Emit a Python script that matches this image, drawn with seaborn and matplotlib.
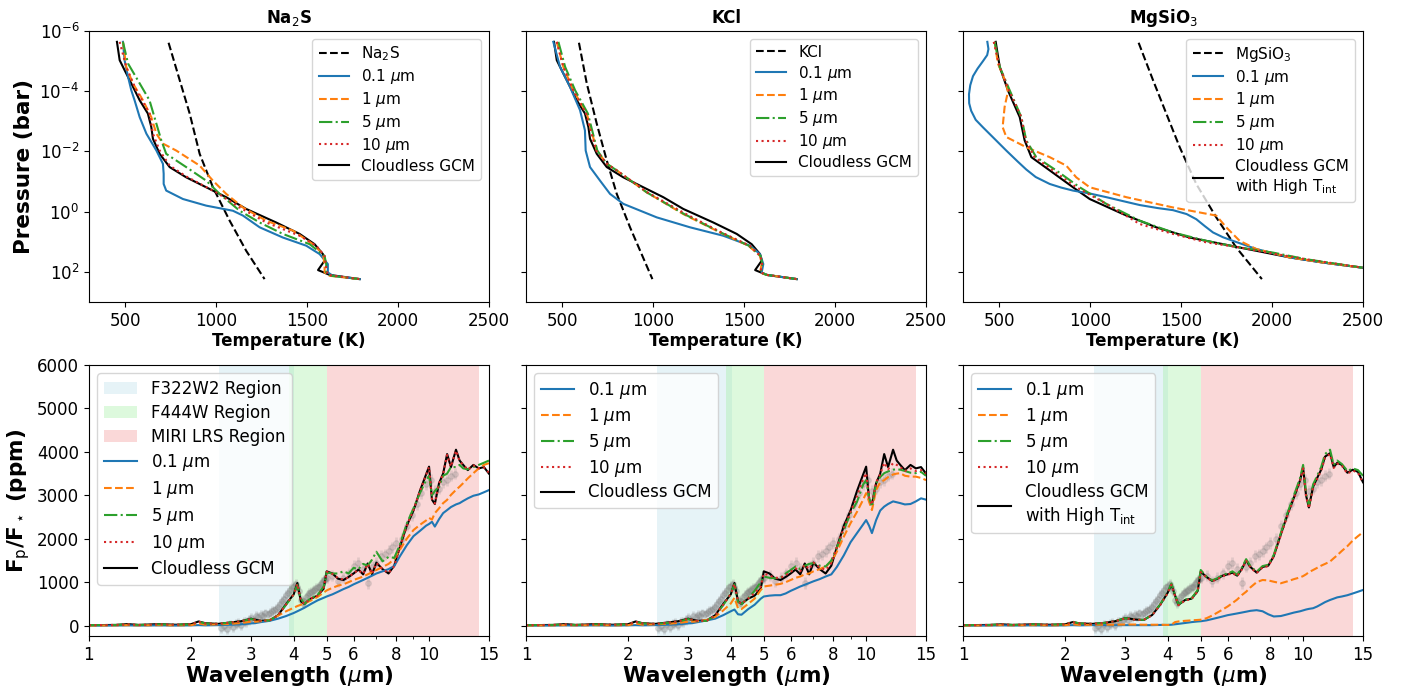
import numpy as np
import matplotlib
matplotlib.use("Agg")
import matplotlib.pyplot as plt
import seaborn as sns
from matplotlib.ticker import NullFormatter, NullLocator

# ==========================================
# Temperature-pressure profiles (T in K, log10 P in bar)
# ==========================================
cloudless_T = [454, 469, 496, 533, 579, 624, 643, 652, 689, 744, 835, 945, 1055, 1165, 1330, 1459, 1541, 1587, 1596, 1560, 1624, 1789]
cloudless_logp = [-5.64, -5.03, -4.7, -4.26, -3.7, -3.26, -2.81, -2.42, -1.92, -1.48, -1.14, -0.81, -0.48, -0.09, 0.36, 0.74, 1.08, 1.41, 1.63, 1.94, 2.1, 2.24]

# Na2S
na2s_cond_T = [738, 799, 854, 909, 982, 1074, 1165, 1266]
na2s_cond_logp = [-5.61, -4.37, -3.26, -1.92, -0.81, 0.3, 1.3, 2.24]
na2s_01_T = [487, 496, 515, 533, 551, 579, 616, 671, 707, 711, 711, 725, 817, 945, 1092, 1147, 1239, 1367, 1495, 1569, 1614, 1614, 1642, 1789]
na2s_01_logp = [-5.64, -5.03, -4.48, -4.03, -3.7, -3.14, -2.59, -2.03, -1.59, -1.26, -0.92, -0.7, -0.42, -0.2, -0.03, 0.13, 0.52, 0.86, 1.13, 1.41, 1.74, 2.02, 2.13, 2.24]
na2s_1_T = [487, 505, 542, 597, 643, 671, 707, 780, 909, 982, 1055, 1147, 1275, 1422, 1532, 1587, 1596, 1596, 1624, 1789]
na2s_1_logp = [-5.64, -4.81, -4.26, -3.7, -3.14, -2.59, -2.26, -2.03, -1.53, -1.03, -0.59, -0.14, 0.3, 0.63, 1.08, 1.41, 1.74, 2.02, 2.13, 2.24]
na2s_5_T = [487, 515, 579, 633, 671, 698, 725, 835, 945, 1019, 1129, 1239, 1367, 1514, 1596, 1605, 1605, 1633, 1789]
na2s_5_logp = [-5.64, -4.92, -4.26, -3.7, -2.92, -2.37, -1.92, -1.48, -1.03, -0.59, -0.03, 0.36, 0.74, 1.08, 1.47, 1.74, 2.02, 2.13, 2.24]
na2s_10_T = [469, 505, 560, 634, 652, 689, 744, 835, 1000, 1129, 1275, 1459, 1550, 1596, 1605, 1614, 1789]
na2s_10_logp = [-5.64, -4.81, -4.03, -3.26, -2.59, -2.03, -1.53, -1.17, -0.64, -0.14, 0.36, 0.8, 1.13, 1.47, 1.86, 2.1, 2.24]

# KCl
kcl_cond_T = [591, 634, 689, 744, 799, 872, 995]
kcl_cond_logp = [-5.61, -4.26, -2.92, -1.7, -0.59, 0.52, 2.24]
kcl_01_T = [450, 487, 542, 597, 624, 628, 652, 707, 762, 835, 1019, 1202, 1385, 1532, 1587, 1605, 1596, 1624, 1789]
kcl_01_logp = [-5.64, -4.81, -4.14, -3.37, -2.7, -2.03, -1.48, -1.03, -0.59, -0.26, 0.19, 0.52, 0.8, 1.13, 1.41, 1.74, 2.02, 2.1, 2.24]
kcl_logp = [-5.64, -4.81, -4.03, -3.26, -2.03, -1.59, -1.37, -0.64, 0.08, 0.69, 1.13, 1.47, 1.74, 2.02, 2.1, 2.24]
kcl_1_T = [469, 505, 560, 634, 689, 744, 799, 964, 1165, 1367, 1523, 1587, 1596, 1587, 1624, 1789]
kcl_5_T = [478, 515, 570, 640, 692, 744, 799, 964, 1170, 1370, 1525, 1590, 1600, 1590, 1624, 1789]
kcl_10_T = [469, 505, 560, 630, 686, 744, 799, 968, 1180, 1375, 1530, 1590, 1598, 1590, 1624, 1789]

# MgSiO3
mg_cond_T = [1266, 1345, 1418, 1492, 1583, 1693, 1803, 1944]
mg_cond_logp = [-5.61, -4.37, -3.26, -2.14, -0.92, 0.19, 1.19, 2.24]
mg_hot_T = [480, 502, 547, 612, 639, 676, 777, 905, 997, 1180, 1363, 1547, 1730, 1913, 2097, 2280, 2496]
mg_hot_logp = [-5.64, -4.81, -4.03, -3.14, -2.37, -1.81, -1.37, -0.81, -0.42, 0.08, 0.52, 0.86, 1.08, 1.3, 1.52, 1.69, 1.86]
mg_01_T = [434, 440, 433, 410, 380, 355, 340, 333, 334, 345, 370, 410, 460, 538, 600, 648, 700, 777, 840, 905,
           1000, 1089, 1180, 1272, 1370, 1455, 1530, 1583, 1630, 1675, 1730, 1785, 1913, 2097, 2280, 2496]
mg_01_logp = [-5.64, -5.4, -5.2, -5.0, -4.75, -4.5, -4.2, -3.9, -3.6, -3.35, -3.05, -2.8, -2.5, -2.03, -1.67, -1.4, -1.15, -0.92, -0.8, -0.7,
              -0.6, -0.48, -0.35, -0.22, -0.12, -0.05, 0.08, 0.25, 0.48, 0.69, 0.85, 0.97, 1.24, 1.52, 1.69, 1.86]
mg_1_T = [474, 492, 538, 547, 529, 518, 538, 648, 777, 868, 923, 997, 1199, 1455, 1693, 1748, 1822, 1913, 2097, 2280, 2496]
mg_1_logp = [-5.64, -4.92, -4.26, -3.98, -3.48, -2.81, -2.48, -2.14, -1.81, -1.53, -1.14, -0.81, -0.48, -0.14, 0.13, 0.52, 0.97, 1.24, 1.52, 1.69, 1.86]
mg_5_T = [474, 502, 557, 621, 648, 703, 813, 942, 1088, 1272, 1455, 1638, 1822, 2005, 2188, 2496]
mg_5_logp = [-5.64, -4.81, -4.03, -3.14, -2.37, -1.81, -1.37, -0.81, -0.26, 0.3, 0.69, 0.97, 1.19, 1.36, 1.58, 1.86]
mg_10_T = [469, 502, 553, 621, 645, 694, 795, 923, 1088, 1272, 1455, 1638, 1822, 2005, 2188, 2496]
mg_10_logp = [-5.64, -4.81, -4.03, -3.14, -2.37, -1.81, -1.37, -0.81, -0.26, 0.41, 0.74, 1.02, 1.19, 1.39, 1.58, 1.86]

# ==========================================
# Emission spectra (wavelength in micron, Fp/F* in ppm)
# ==========================================
wl = [1.0, 1.2, 1.3, 1.4, 1.6, 1.8, 2.0, 2.1, 2.2, 2.4, 2.6, 2.8, 3.0, 3.1, 3.2, 3.4, 3.6, 3.8, 4.0, 4.1,
      4.2, 4.3, 4.5, 4.7, 4.9, 5.0, 5.2, 5.4, 5.6, 5.8, 6.0, 6.2, 6.4, 6.6, 6.8, 7.0, 7.3, 7.6, 7.9, 8.2,
      8.6, 9.0, 9.4, 9.8, 10.0, 10.2, 10.4, 10.7, 11.0, 11.3, 11.6, 12.0, 12.3, 12.6, 13.0, 13.5, 14.0, 14.5, 15.0]

spec_cloudless = [10, 15, 35, 15, 35, 20, 35, 95, 55, 40, 70, 100, 160, 130, 110, 120, 240, 500, 720, 980,
                  560, 500, 620, 690, 850, 1250, 1200, 1080, 1050, 1120, 1200, 1290, 1180, 1430, 1180, 1450, 1300, 1200, 1380, 1800,
                  2300, 2650, 3100, 3480, 3660, 2900, 2800, 3280, 3500, 3950, 3650, 4050, 3800, 3700, 3580, 3700, 3620, 3650, 3500]

na2s_spec_01 = [0, 0, 5, 0, 5, 0, 5, 10, 5, 10, 20, 30, 50, 60, 80, 110, 160, 220, 290, 330,
                370, 410, 500, 580, 640, 670, 720, 780, 840, 890, 950, 1000, 1050, 1100, 1150, 1200, 1250, 1300, 1370, 1590,
                1850, 2060, 2180, 2300, 2340, 2390, 2280, 2450, 2590, 2660, 2730, 2790, 2820, 2870, 2930, 2990, 3020, 3070, 3120]
na2s_spec_1 = [0, 5, 10, 5, 10, 5, 10, 50, 20, 30, 40, 60, 90, 90, 100, 130, 230, 330, 410, 450,
               480, 510, 580, 660, 760, 810, 870, 920, 950, 1000, 1050, 1090, 1130, 1180, 1230, 1280, 1350, 1420, 1530, 1740,
               2000, 2200, 2320, 2420, 2480, 2440, 2590, 2700, 2820, 2895, 3010, 3125, 3200, 3280, 3390, 3510, 3620, 3700, 3740]
na2s_spec_5 = [10, 15, 30, 15, 30, 20, 30, 90, 50, 40, 70, 100, 150, 130, 110, 120, 240, 480, 720, 940,
               620, 500, 640, 700, 900, 1220, 1200, 1200, 1250, 1200, 1330, 1300, 1420, 1380, 1520, 1700, 1480, 1580, 1560, 1850,
               2350, 2700, 3050, 3350, 3450, 3000, 3100, 3200, 3450, 3500, 3650, 3650, 3700, 3620, 3600, 3650, 3700, 3750, 3800]
na2s_spec_10 = [10, 15, 30, 15, 30, 20, 30, 90, 50, 40, 70, 100, 150, 130, 110, 120, 240, 490, 720, 960,
                570, 500, 630, 690, 860, 1240, 1190, 1090, 1060, 1110, 1210, 1280, 1190, 1420, 1190, 1440, 1300, 1210, 1370, 1790,
                2290, 2660, 3100, 3470, 3650, 2920, 2810, 3270, 3490, 3930, 3660, 4030, 3790, 3700, 3590, 3690, 3620, 3640, 3520]

kcl_spec_01 = [0, 0, 5, 0, 5, 0, 5, 10, 5, 10, 20, 30, 50, 60, 80, 120, 160, 240, 330, 370,
               260, 250, 380, 480, 620, 670, 690, 700, 700, 740, 800, 850, 900, 940, 980, 1020, 1070, 1130, 1180, 1350,
               1620, 1920, 2130, 2330, 2430, 2300, 2130, 2430, 2650, 2740, 2800, 2860, 2840, 2820, 2790, 2800, 2860, 2930, 2900]
kcl_spec_1 = [0, 5, 10, 5, 10, 5, 10, 50, 20, 30, 40, 60, 90, 90, 100, 130, 200, 350, 510, 640,
              400, 380, 500, 620, 820, 900, 920, 940, 960, 1000, 1050, 1100, 1130, 1180, 1200, 1250, 1300, 1360, 1470, 1700,
              2050, 2360, 2620, 2900, 3050, 2850, 2660, 3125, 3300, 3350, 3420, 3480, 3500, 3510, 3450, 3430, 3430, 3400, 3350]
kcl_spec_5 = [10, 15, 30, 15, 30, 20, 30, 90, 50, 40, 60, 90, 150, 120, 100, 110, 230, 470, 740, 950,
              550, 500, 630, 800, 1000, 1130, 1100, 1090, 1100, 1200, 1280, 1360, 1300, 1380, 1420, 1440, 1380, 1360, 1500, 1800,
              2200, 2590, 2850, 3250, 3350, 2950, 2740, 3280, 3420, 3510, 3550, 3590, 3600, 3590, 3560, 3520, 3510, 3540, 3450]
kcl_spec_10 = [10, 15, 30, 15, 30, 20, 30, 90, 50, 40, 65, 95, 155, 125, 105, 115, 235, 480, 730, 960,
               560, 500, 625, 750, 900, 1200, 1150, 1100, 1100, 1160, 1240, 1320, 1250, 1400, 1300, 1450, 1340, 1280, 1440, 1800,
               2250, 2620, 2980, 3380, 3510, 2950, 2780, 3300, 3480, 3750, 3600, 3740, 3700, 3650, 3560, 3620, 3560, 3580, 3500]

mg_spec_01 = [0, 0, 5, 0, 5, 0, 5, 10, 5, 10, 10, 10, 10, 10, 10, 10, 10, 15, 15, 20,
              30, 40, 60, 80, 95, 100, 120, 150, 180, 210, 240, 260, 280, 300, 320, 340, 355, 330, 260, 210,
              220, 260, 300, 330, 350, 370, 385, 400, 440, 490, 540, 590, 620, 650, 670, 700, 740, 780, 820]
mg_spec_1 = [0, 5, 10, 5, 10, 5, 10, 30, 15, 20, 20, 20, 25, 25, 25, 20, 20, 20, 15, 20,
             80, 95, 110, 120, 130, 135, 170, 230, 300, 370, 440, 520, 600, 700, 780, 880, 1000, 1050, 1040, 1010,
             975, 1020, 1070, 1110, 1140, 1180, 1230, 1280, 1330, 1380, 1420, 1475, 1550, 1620, 1720, 1830, 1960, 2060, 2150]
mg_spec_5 = [10, 15, 30, 15, 30, 20, 30, 90, 50, 40, 60, 100, 170, 160, 140, 130, 250, 490, 770, 970,
             710, 490, 600, 630, 820, 1280, 1130, 1040, 1090, 1170, 1200, 1250, 1170, 1330, 1530, 1370, 1240, 1370, 1400, 1630,
             2130, 2600, 3000, 3400, 3700, 3050, 2760, 3250, 3450, 3650, 3950, 4050, 3700, 3800, 3720, 3560, 3620, 3580, 3450]
mg_spec_10 = [10, 15, 30, 15, 30, 20, 30, 80, 50, 40, 60, 100, 165, 155, 135, 130, 240, 470, 750, 940,
              690, 470, 580, 610, 790, 1230, 1110, 1020, 1070, 1140, 1170, 1210, 1140, 1290, 1490, 1340, 1210, 1340, 1370, 1590,
              2080, 2540, 2930, 3330, 3620, 2980, 2700, 3180, 3380, 3570, 3870, 3950, 3630, 3730, 3680, 3500, 3570, 3520, 3280]
mg_spec_hot = [10, 15, 30, 15, 30, 20, 30, 80, 50, 40, 60, 100, 170, 160, 140, 130, 245, 480, 760, 950,
               700, 480, 590, 620, 800, 1240, 1120, 1030, 1080, 1150, 1180, 1220, 1150, 1300, 1500, 1350, 1220, 1350, 1380, 1600,
               2100, 2560, 2950, 3350, 3640, 3000, 2720, 3200, 3400, 3590, 3890, 3970, 3650, 3750, 3700, 3520, 3590, 3540, 3300]

# Observed eclipse spectrum (grey points)
obs_nircam_wl = [2.45, 2.5, 2.55, 2.6, 2.65, 2.7, 2.75, 2.8, 2.85, 2.9, 2.95, 3.0, 3.05, 3.1, 3.15, 3.2, 3.25, 3.3,
                 3.35, 3.4, 3.45, 3.5, 3.55, 3.6, 3.65, 3.7, 3.75, 3.8, 3.85, 3.9, 3.95, 4.0, 4.05, 4.1, 4.15, 4.2,
                 4.25, 4.3, 4.35, 4.4, 4.45, 4.5, 4.55, 4.6, 4.65, 4.7, 4.75, 4.8, 4.85, 4.9, 4.95, 5.0]
obs_nircam_flux = [-50, -20, -80, 30, -40, 40, 60, 20, 90, 80, 130, 170, 140, 220, 200, 250, 220, 280,
                   260, 300, 330, 350, 380, 430, 500, 560, 620, 700, 760, 820, 880, 920, 960, 900, 800, 600,
                   520, 560, 650, 700, 760, 780, 800, 830, 860, 880, 900, 950, 1000, 1050, 1080, 1100]
obs_miri_wl = [5.2, 5.4, 5.6, 5.8, 6.0, 6.2, 6.4, 6.6, 6.8, 7.0, 7.2, 7.4, 7.6, 7.8, 8.0, 8.3, 8.6, 8.9,
               9.2, 9.5, 9.8, 10.1, 10.4, 10.7, 11.0, 11.3, 11.6, 11.9]
obs_miri_flux = [1150, 1020, 1100, 1200, 1380, 1440, 1300, 980, 1360, 1450, 1600, 1640, 1720, 1800, 1900, 2000, 2300, 2550,
                 2800, 3050, 3250, 3350, 3100, 3150, 3300, 3350, 3450, 3500]
obs_nircam_err = 110
obs_miri_err = 130

# ==========================================
# Figure
# ==========================================
fig, axes = plt.subplots(2, 3, figsize=(14.05, 6.89), dpi=100, sharey='row')
lefts = [0.0633, 0.3744, 0.6854]
for j in range(3):
    axes[0, j].set_position([lefts[j], 0.5617, 0.2847, 0.3933])
    axes[1, j].set_position([lefts[j], 0.0769, 0.2847, 0.3933])


def line(ax, x, y, **kw):
    sns.lineplot(x=list(x), y=list(y), ax=ax, sort=False, estimator=None, **kw)


size_labels = ['0.1 $\\mu$m', '1 $\\mu$m', '5 $\\mu$m', '10 $\\mu$m']
styles = [dict(color='C0', linestyle='-'), dict(color='C1', linestyle='--'),
          dict(color='C2', linestyle='-.'), dict(color='C3', linestyle=':')]

# ---- top row: T-P profiles ----
top_sets = [
    ("Na$_2$S", (na2s_cond_T, na2s_cond_logp),
     [(na2s_01_T, na2s_01_logp), (na2s_1_T, na2s_1_logp), (na2s_5_T, na2s_5_logp), (na2s_10_T, na2s_10_logp)],
     (cloudless_T, cloudless_logp), "Cloudless GCM"),
    ("KCl", (kcl_cond_T, kcl_cond_logp),
     [(kcl_01_T, kcl_01_logp), (kcl_1_T, kcl_logp), (kcl_5_T, kcl_logp), (kcl_10_T, kcl_logp)],
     (cloudless_T, cloudless_logp), "Cloudless GCM"),
    ("MgSiO$_3$", (mg_cond_T, mg_cond_logp),
     [(mg_01_T, mg_01_logp), (mg_1_T, mg_1_logp), (mg_5_T, mg_5_logp), (mg_10_T, mg_10_logp)],
     (mg_hot_T, mg_hot_logp), "Cloudless GCM\nwith High T$_{\\rm int}$"),
]

for j, (name, cond, profs, base, base_label) in enumerate(top_sets):
    ax = axes[0, j]
    line(ax, cond[0], 10.0 ** np.array(cond[1]), color='black', linestyle='--', label=name)
    for (T, lp), lab, st in zip(profs, size_labels, styles):
        line(ax, T, 10.0 ** np.array(lp), label=lab, **st)
    line(ax, base[0], 10.0 ** np.array(base[1]), color='black', linestyle='-', label=base_label, zorder=1.9)
    ax.set_yscale('log')
    ax.set_ylim(1e3, 1e-6)
    ax.set_yticks([1e-6, 1e-4, 1e-2, 1e0, 1e2])
    ax.yaxis.set_minor_locator(NullLocator())
    ax.set_xlim(300, 2500)
    ax.set_xticks([500, 1000, 1500, 2000, 2500])
    ax.set_title(name, fontsize=12, fontweight='bold')
    ax.set_xlabel("Temperature (K)", fontsize=12, fontweight='bold', labelpad=2)
    ax.set_ylabel("")
    ax.tick_params(labelsize=12)
    ax.legend(loc='upper right', fontsize=11, labelspacing=0.25)

axes[0, 0].set_ylabel("Pressure (bar)", fontsize=15.5, fontweight='bold')

# ---- bottom row: spectra ----
bot_sets = [
    [na2s_spec_01, na2s_spec_1, na2s_spec_5, na2s_spec_10], spec_cloudless, "Cloudless GCM"
], [
    [kcl_spec_01, kcl_spec_1, kcl_spec_5, kcl_spec_10], spec_cloudless, "Cloudless GCM"
], [
    [mg_spec_01, mg_spec_1, mg_spec_5, mg_spec_10], mg_spec_hot, "Cloudless GCM\nwith High T$_{\\rm int}$"
]

for j, (models, base, base_label) in enumerate(bot_sets):
    ax = axes[1, j]
    ax.axvspan(2.42, 4.02, color='lightblue', alpha=0.3, lw=0, zorder=0, label='F322W2 Region')
    ax.axvspan(3.88, 5.0, color='lightgreen', alpha=0.3, lw=0, zorder=0, label='F444W Region')
    ax.axvspan(5.0, 14.0, color='lightcoral', alpha=0.3, lw=0, zorder=0, label='MIRI LRS Region')
    ax.errorbar(obs_nircam_wl, obs_nircam_flux, yerr=obs_nircam_err, fmt='o', color='grey',
                ms=4, elinewidth=2, alpha=0.25, zorder=1)
    ax.errorbar(obs_miri_wl, obs_miri_flux, yerr=obs_miri_err, fmt='o', color='grey',
                ms=4, elinewidth=2, alpha=0.2, zorder=1)
    for vals, lab, st in zip(models, size_labels, styles):
        line(ax, wl, vals, label=lab, **st)
    line(ax, wl, base, color='black', linestyle='-', label=base_label, zorder=1.9)

    ax.set_xscale('log')
    ax.set_xlim(1, 15)
    ax.set_xticks([1, 2, 3, 4, 5, 6, 8, 10, 15], ['1', '2', '3', '4', '5', '6', '8', '10', '15'])
    ax.xaxis.set_minor_formatter(NullFormatter())
    ax.set_ylim(-240, 6000)
    ax.set_yticks([0, 1000, 2000, 3000, 4000, 5000, 6000])
    ax.set_xlabel("Wavelength ($\\mu$m)", fontsize=15.5, fontweight='bold', labelpad=0)
    ax.set_ylabel("")
    ax.tick_params(labelsize=12)

    handles, labels = ax.get_legend_handles_labels()
    if j == 0:
        ax.legend(handles, labels, loc='upper left', fontsize=12, labelspacing=0.36)
    else:
        keep = [(h, l) for h, l in zip(handles, labels) if 'Region' not in l]
        ax.legend([h for h, _ in keep], [l for _, l in keep], loc='upper left', fontsize=12, labelspacing=0.29)

axes[1, 0].set_ylabel("F$_{\\rm p}$/F$_\\star$ (ppm)", fontsize=15.5, fontweight='bold')

plt.savefig("out.png", dpi=100)
plt.close()
